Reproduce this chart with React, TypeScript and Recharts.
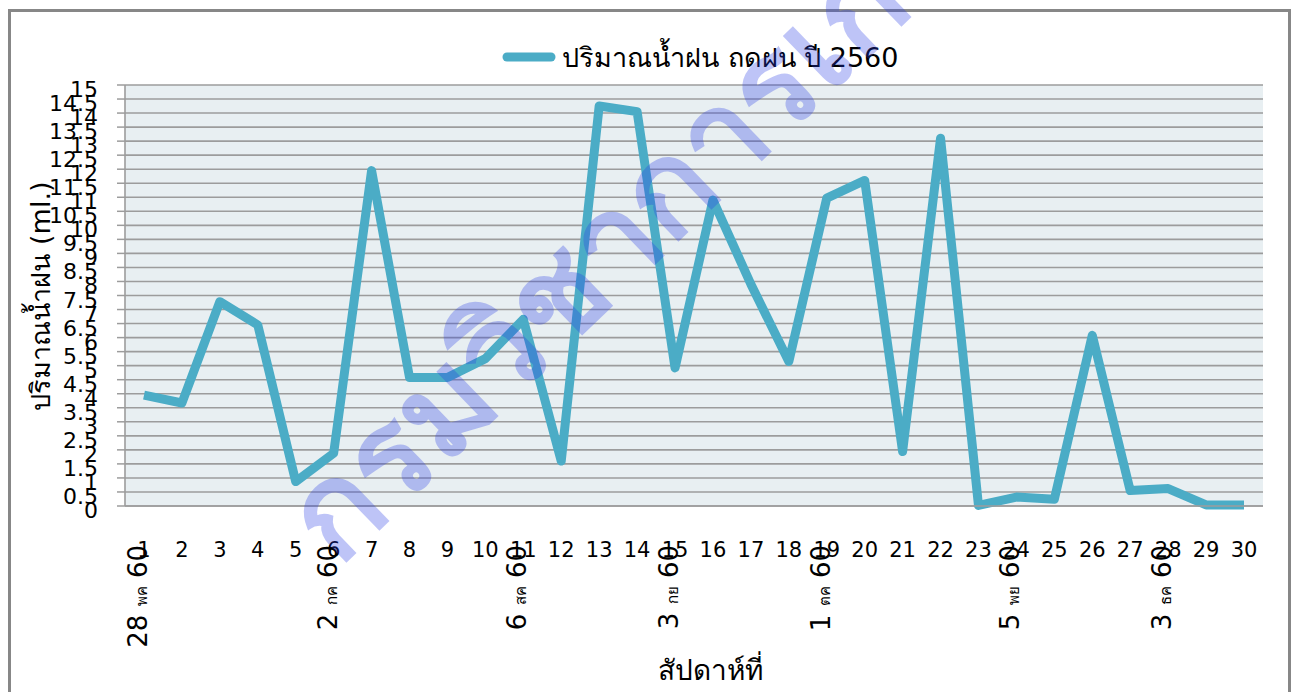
import { LineChart, Line, XAxis, YAxis, CartesianGrid } from "recharts";

// week numbers (x categories)
const weeks = [
  1, 2, 3, 4, 5, 6, 7, 8, 9, 10, 11, 12, 13, 14, 15,
  16, 17, 18, 19, 20, 21, 22, 23, 24, 25, 26, 27, 28, 29, 30,
];

// rainfall per week (ml.)
const rainfall = [
  3.95, 3.67, 7.28, 6.45, 0.87, 1.88, 11.95, 4.58, 4.58, 5.25,
  6.65, 1.6, 14.25, 14.05, 4.92, 10.9, 7.9, 5.15, 10.97, 11.6,
  1.94, 13.1, 0.02, 0.32, 0.24, 6.08, 0.55, 0.62, 0.04, 0.04,
];

// date marks below some weeks
const dateWeeks = [1, 6, 11, 15, 19, 24, 28];
const dateDays = ["28", "2", "6", "3", "1", "5", "3"];
const dateMonths = ["พค", "กค", "สค", "กย", "ตค", "พย", "ธค"];
const dateYear = "60";

const yTicks = [
  0, 0.5, 1, 1.5, 2, 2.5, 3, 3.5, 4, 4.5, 5, 5.5, 6, 6.5, 7, 7.5,
  8, 8.5, 9, 9.5, 10, 10.5, 11, 11.5, 12, 12.5, 13, 13.5, 14, 14.5, 15,
];

const seriesName = "ปริมาณน้ำฝน ถดฝน ปี 2560";
const yTitle = "ปริมาณน้ำฝน (ml.)";
const xTitle = "สัปดาห์ที่";
const watermark = "กรมวิชาการเกษตร";

const data = weeks.map((w, i) => ({ week: w, rain: rainfall[i] }));

const FONT = "Tahoma, 'DejaVu Sans', 'Noto Sans', sans-serif";
const LINE_COLOR = "#4BACC6";

const XTick = ({ x, y, payload }: any) => {
  const i = dateWeeks.indexOf(payload.value);
  return (
    <g>
      <text x={x} y={y + 51} textAnchor="middle" fontSize={21} fill="#000" fontFamily={FONT}>
        {payload.value}
      </text>
      {i >= 0 && (
        <text
          transform={`translate(${x + 3},${y + 39}) rotate(-90)`}
          textAnchor="end"
          fill="#000"
          fontFamily={FONT}
        >
          <tspan fontSize={26}>{dateDays[i]} </tspan>
          <tspan fontSize={15}>{dateMonths[i]}</tspan>
          <tspan fontSize={26}> {dateYear}</tspan>
        </text>
      )}
    </g>
  );
};

const YTick = ({ x, y, payload }: any) => (
  <text x={x} y={y + 12} textAnchor="end" fontSize={22} fill="#000" fontFamily={FONT}>
    {payload.value}
  </text>
);

export default function App() {
  return (
    <div
      style={{
        position: "absolute",
        left: 0,
        top: 0,
        width: 1293,
        height: 692,
        overflow: "hidden",
        background: "#fff",
      }}
    >
      <div
        style={{
          position: "absolute",
          left: 8,
          top: 9,
          width: 1277,
          height: 720,
          border: "3px solid #878787",
        }}
      />
      <div style={{ position: "absolute", left: 0, top: 0 }}>
        <LineChart
          width={1293}
          height={692}
          data={data}
          margin={{ top: 85, right: 30, left: 0, bottom: 0 }}
        >
          <CartesianGrid
            vertical={false}
            stroke="#9c9c9c"
            strokeWidth={1.6}
            fill="#E8EFF2"
            horizontalValues={yTicks}
          />
          <XAxis
            dataKey="week"
            type="category"
            interval={0}
            height={186}
            padding={{ left: 19, right: 19 }}
            tickSize={0}
            tickMargin={0}
            tickLine={false}
            axisLine={{ stroke: "#9c9c9c", strokeWidth: 1.6 }}
            tick={<XTick />}
          />
          <YAxis
            width={125}
            domain={[0, 15]}
            ticks={yTicks}
            interval={0}
            tickSize={8}
            tickMargin={19}
            tickLine={{ stroke: "#9c9c9c", strokeWidth: 1.5 }}
            axisLine={{ stroke: "#9c9c9c", strokeWidth: 1.6 }}
            tick={<YTick />}
          />
          <Line
            type="linear"
            dataKey="rain"
            name={seriesName}
            stroke={LINE_COLOR}
            strokeWidth={9}
            strokeLinejoin="round"
            dot={false}
            activeDot={false}
            isAnimationActive={false}
          />
        </LineChart>
      </div>
      <svg
        width={1293}
        height={692}
        style={{ position: "absolute", left: 0, top: 0, pointerEvents: "none" }}
        fontFamily={FONT}
      >
        {/* legend */}
        <line x1={507} y1={57} x2={551} y2={57} stroke={LINE_COLOR} strokeWidth={9} strokeLinecap="round" />
        <text x={562} y={67} fontSize={27} fill="#000">
          {seriesName}
        </text>
        {/* axis titles */}
        <text transform="translate(50,296) rotate(-90)" textAnchor="middle" fontSize={27} fill="#000">
          {yTitle}
        </text>
        <text x={710} y={680} textAnchor="middle" fontSize={28} fill="#000">
          {xTitle}
        </text>
        {/* watermark */}
        <text
          transform="translate(338,568) rotate(-44)"
          fontSize={128}
          fontWeight={600}
          fill="rgba(40,60,230,0.3)"
        >
          {watermark}
        </text>
      </svg>
    </div>
  );
}
